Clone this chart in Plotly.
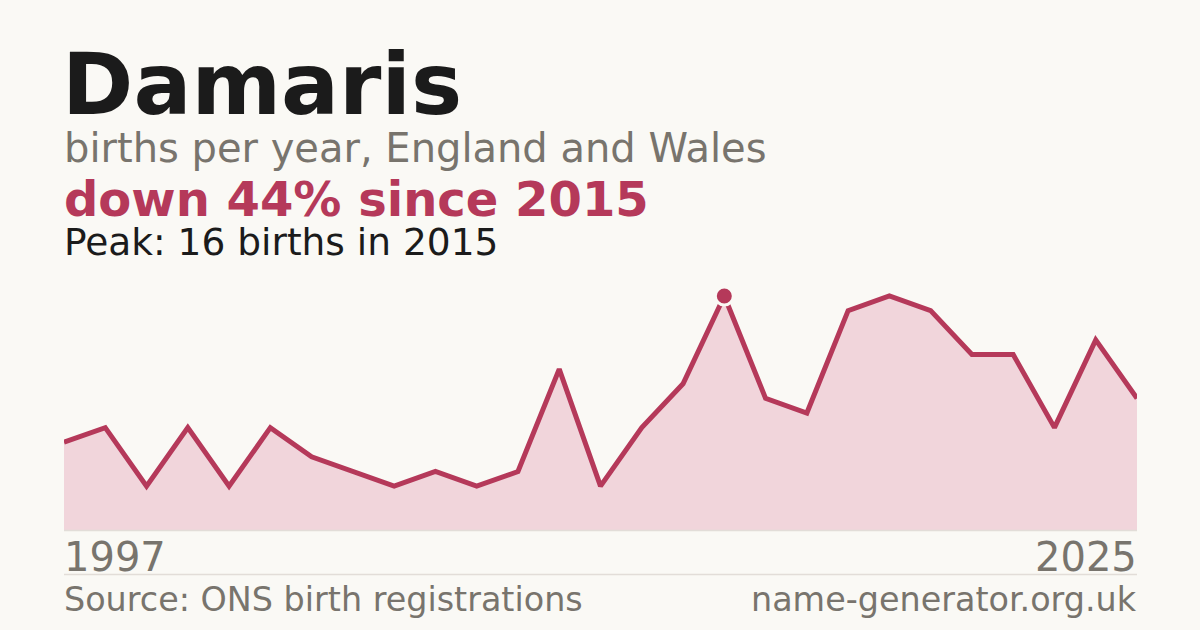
import plotly.graph_objects as go

# ---- data ----
years = ["1997", "1998", "1999", "2000", "2001", "2002", "2003", "2004", "2005",
         "2006", "2008", "2009", "2010", "2011", "2013", "2014", "2015", "2016",
         "2017", "2018", "2019", "2020", "2021", "2022", "2023", "2024", "2025"]
births = [6, 7, 3, 7, 3, 7, 5, 4, 3, 4, 3, 4, 11, 3, 7, 10, 16, 9, 8, 15, 16, 15, 12, 12, 7, 13, 9]
name = "Damaris"
subtitle = "births per year, England and Wales"
source = "Source: ONS birth registrations"
site = "name-generator.org.uk"

peak_val = max(births)
peak_idx = births.index(peak_val)
peak_year = years[peak_idx]
change = round((births[-1] - peak_val) / peak_val * 100)
headline = f"down {abs(change)}% since {peak_year}" if change < 0 else f"up {change}% since {peak_year}"
peak_text = f"Peak: {peak_val} births in {peak_year}"

# ---- style ----
BG = "#faf9f5"
LINE = "#b5395a"
FILL = "#f1d5db"
GREY = "#78746d"
DARK = "#1b1b1b"
FONT = "DejaVu Sans"

W, H = 1200, 630
L, R = 64, 1137
TOP, BOT = 280, 530


def py(ypx):
    return (BOT - ypx) / (BOT - TOP)


def px(xpx):
    return (xpx - L) / (R - L)


fig = go.Figure()
fig.add_trace(go.Scatter(
    x=years, y=births, mode="lines",
    line=dict(color=LINE, width=5),
    fill="tozeroy", fillcolor=FILL,
    hoverinfo="skip", showlegend=False,
))
fig.add_trace(go.Scatter(
    x=[peak_year], y=[peak_val], mode="markers",
    marker=dict(color=LINE, size=18, line=dict(color=BG, width=3)),
    hoverinfo="skip", showlegend=False,
))

ann = []
ann.append(dict(text=f"<b>{name}</b>", x=px(L - 4), y=py(84), font=dict(size=86, color=DARK, family=FONT)))
ann.append(dict(text=subtitle, x=px(L - 2), y=py(148), font=dict(size=40, color=GREY, family=FONT)))
ann.append(dict(text=f"<b>{headline}</b>", x=px(L - 2), y=py(199), font=dict(size=48, color=LINE, family=FONT)))
ann.append(dict(text=peak_text, x=px(L - 2), y=py(242), font=dict(size=37.5, color=DARK, family=FONT)))
ann.append(dict(text=years[0], x=px(L - 2), y=py(557), font=dict(size=40, color=GREY, family=FONT)))
ann.append(dict(text=years[-1], x=px(R + 2), y=py(557), xanchor="right", font=dict(size=40, color=GREY, family=FONT)))
ann.append(dict(text=source, x=px(L - 2), y=py(599), font=dict(size=33.4, color=GREY, family=FONT)))
ann.append(dict(text=site, x=px(R + 2), y=py(599), xanchor="right", font=dict(size=33.4, color=GREY, family=FONT)))
for a in ann:
    a.setdefault("xanchor", "left")
    a.update(xref="paper", yref="paper", yanchor="middle", showarrow=False)

fig.update_layout(
    width=W, height=H,
    paper_bgcolor=BG, plot_bgcolor=BG,
    margin=dict(l=L, r=W - R, t=TOP, b=H - BOT, pad=0),
    xaxis=dict(type="category", range=[0, len(years) - 1], showgrid=False, zeroline=False,
               showticklabels=False, ticks="", showline=False, fixedrange=True),
    yaxis=dict(range=[0, peak_val * (BOT - TOP) / 234], showgrid=False, zeroline=False,
               showticklabels=False, ticks="", showline=False, fixedrange=True),
    annotations=ann,
    shapes=[
        dict(type="line", xref="paper", yref="paper", x0=0, x1=1, y0=py(530.5), y1=py(530.5),
             line=dict(color="#e2ddd8", width=1.5)),
        dict(type="line", xref="paper", yref="paper", x0=0, x1=1, y0=py(574.5), y1=py(574.5),
             line=dict(color="#e2ddd8", width=1.5)),
    ],
)

fig.write_html(
    "out.html",
    config={"displayModeBar": False},
    post_script=f"document.body.style.margin='0';document.body.style.background='{BG}';",
)
